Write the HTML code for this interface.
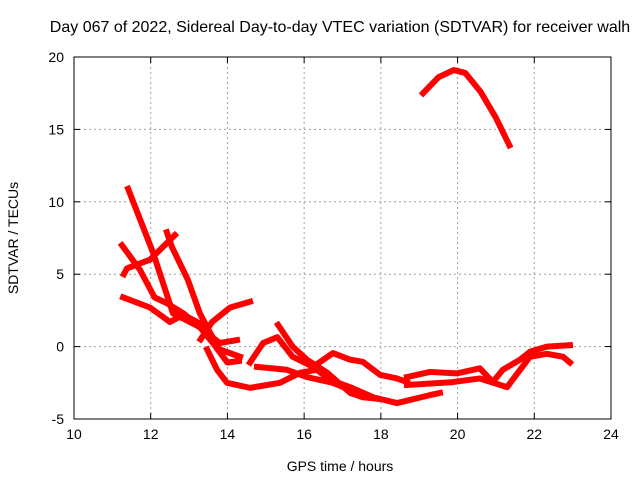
<!DOCTYPE html>
<html><head><meta charset="utf-8"><style>
body{margin:0;background:#fff}
svg{display:block;font-family:"Liberation Sans",sans-serif}
</style></head><body>
<svg id="chart" width="640" height="480">
<text x="340" y="32" text-anchor="middle" font-size="16">Day 067 of 2022, Sidereal Day-to-day VTEC variation (SDTVAR) for receiver walh</text>
<text x="340" y="471" text-anchor="middle" font-size="14">GPS time / hours</text>
<text x="18" y="238" text-anchor="middle" font-size="14" transform="rotate(-90 18 238)">SDTVAR / TECUs</text>
<g id="grid"></g><g id="series"></g><g id="axes"></g>
</svg>
<script>
const xTicks=[10,12,14,16,18,20,22,24];
const yTicks=[-5,0,5,10,15,20];
const track1=[[19.1,17.5],[19.5,18.6],[19.9,19.1],[20.2,18.9],[20.6,17.6],[21.0,15.8],[21.35,13.9]];
const track2=[[11.41,10.9],[12.06,6.5],[12.32,4.4],[12.58,2.3],[13.28,1.35],[13.62,0.25],[14.0,-1.1],[14.3,-1.0]];
const track3=[[12.42,7.9],[12.55,6.9],[12.97,4.6],[13.28,2.3],[13.55,0.95],[13.8,-0.2],[14.33,-0.7]];
const track4=[[12.63,7.7],[11.98,6.0],[11.38,5.4],[11.3,5.0]];
const track5=[[11.25,7.0],[11.72,5.3],[12.1,3.4],[12.42,3.0],[12.85,2.3],[13.36,1.15],[13.8,0.25],[14.25,0.45]];
const track6=[[11.28,3.4],[11.98,2.7],[12.5,1.7],[12.85,2.2],[13.28,1.6],[13.5,1.0]];
const track7=[[13.3,0.5],[13.6,1.7],[14.07,2.7],[14.59,3.1]];
const track8=[[13.47,-0.2],[13.73,-1.6],[13.99,-2.5],[14.59,-2.85],[15.37,-2.5],[15.9,-1.8],[16.33,-1.6],[16.67,-2.3],[17.2,-2.8],[17.8,-3.5],[18.42,-3.9],[19.28,-3.35],[19.54,-3.2]];
const track9=[[15.32,1.5],[15.7,0],[16.07,-0.9],[16.6,-1.8],[17.2,-3.2],[17.53,-3.5],[17.9,-3.6]];
const track10=[[14.59,-1.1],[14.93,0.25],[15.3,0.65],[15.7,-0.7],[16.23,-1.4],[16.75,-0.45],[17.2,-0.9],[17.53,-1.05],[17.98,-1.95],[18.42,-2.2],[18.68,-2.45]];
const track11=[[14.77,-1.4],[15.55,-1.6],[16.07,-2.1],[16.75,-2.5],[17.2,-3.0],[17.6,-3.3]];
const track12=[[18.68,-2.1],[19.28,-1.75],[19.98,-1.85],[20.58,-1.5],[20.92,-2.45],[21.18,-1.6],[21.63,-0.9],[21.89,-0.35],[22.33,0],[22.93,0.1]];
const track13=[[18.68,-2.65],[19.88,-2.45],[20.58,-2.2],[21.29,-2.8],[21.63,-1.6],[21.89,-0.7],[22.33,-0.5],[22.75,-0.7],[22.93,-1.1]];
const tracks=[track1,track2,track3,track4,track5,track6,track7,track8,track9,track10,track11,track12,track13];
const X0=74,X1=611,Y0=419,Y1=57;
const sx=v=>X0+(v-10)/14*(X1-X0);
const sy=v=>Y0-(v+5)/25*(Y0-Y1);
const NS="http://www.w3.org/2000/svg";
function mk(tag,attrs,parent){const e=document.createElementNS(NS,tag);for(const k in attrs)e.setAttribute(k,attrs[k]);parent.appendChild(e);return e;}
const grid=document.getElementById('grid'),axes=document.getElementById('axes'),series=document.getElementById('series');
xTicks.forEach(t=>{
 if(t>10&&t<24){const g=mk('line',{x1:sx(t),x2:sx(t),y1:Y1,y2:Y0,stroke:'#a0a0a0','stroke-dasharray':'2,3'},grid);
 
 }
 mk('line',{x1:sx(t),x2:sx(t),y1:Y0,y2:Y0-6,stroke:'#000'},axes);
 mk('line',{x1:sx(t),x2:sx(t),y1:Y1,y2:Y1+6,stroke:'#000'},axes);
 const l=mk('text',{x:sx(t),y:Y0+20,'text-anchor':'middle','font-size':14},axes);l.textContent=t;
 
 
});
yTicks.forEach(t=>{
 if(t>-5&&t<20){const g=mk('line',{x1:X0,x2:X1,y1:sy(t),y2:sy(t),stroke:'#a0a0a0','stroke-dasharray':'2,3'},grid);
 
 }
 mk('line',{x1:X0,x2:X0+6,y1:sy(t),y2:sy(t),stroke:'#000'},axes);
 mk('line',{x1:X1,x2:X1-6,y1:sy(t),y2:sy(t),stroke:'#000'},axes);
 const l=mk('text',{x:X0-10,y:sy(t)+5,'text-anchor':'end','font-size':14},axes);l.textContent=t;
 
 
});
const fr=mk('rect',{x:X0,y:Y1,width:X1-X0,height:Y0-Y1,fill:'none',stroke:'#000'},axes);


tracks.forEach((tr,i)=>{
 const p=mk('polyline',{points:tr.map(d=>sx(d[0])+','+sy(d[1])).join(' '),fill:'none',stroke:'#ff0000','stroke-width':6,'stroke-linejoin':'round','stroke-linecap':'square'},series);
 
 
});
</script>
</body></html>
